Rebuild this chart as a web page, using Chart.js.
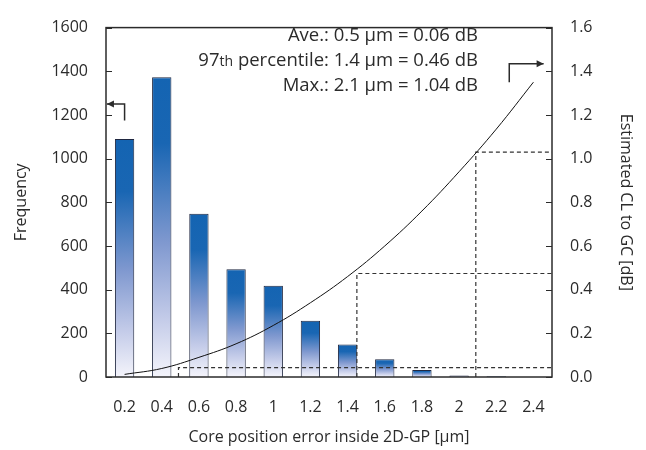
<!DOCTYPE html>
<html>
<head>
<meta charset="utf-8">
<script src="https://cdn.jsdelivr.net/npm/chart.js@4.4.0/dist/chart.umd.min.js"></script>
<style>
  html, body { margin: 0; padding: 0; background: #fff; }
  #wrap { width: 646px; height: 450px; }
</style>
</head>
<body>
<div id="wrap"><canvas id="c"></canvas></div>
<script>
// --- data ---
const categories = ["0.2", "0.4", "0.6", "0.8", "1", "1.2", "1.4", "1.6", "1.8", "2", "2.2", "2.4"];
const frequency = [1090, 1373, 748, 493, 418, 258, 149, 81, 32, 7, 3, 0];
const lossX = [0.2, 0.4, 0.6, 0.8, 1.0, 1.2, 1.4, 1.6, 1.8, 2.0, 2.2, 2.4];
const lossDb = [0.012, 0.039, 0.09, 0.152, 0.236, 0.34, 0.46, 0.6, 0.76, 0.94, 1.135, 1.35];
// markers as drawn: [error position, loss]
const aveMark = [0.49, 0.043];
const p97Mark = [1.45, 0.474];
const maxMark = [2.09, 1.03];
const notes = [
  ["", "Ave.: 0.5 \u00b5m = 0.06 dB"],
  ["97", "th", " percentile: 1.4 \u00b5m = 0.46 dB"],
  ["", "Max.: 2.1 \u00b5m = 1.04 dB"]
];

const FONT = "'Open Sans', 'Noto Sans', sans-serif";
const INK = "#2b2b2b";

function markLine(m) {
  return [{x: m[0], y: 0}, {x: m[0], y: m[1]}, {x: 2.5, y: m[1]}];
}

function barFill(ctx) {
  const chart = ctx.chart;
  if (!chart.chartArea) return "#1a64b0";
  const y = chart.scales.y;
  const v = ctx.raw || 0;
  const top = y.getPixelForValue(v);
  const bot = y.getPixelForValue(0);
  const g = chart.ctx.createLinearGradient(0, top, 0, Math.max(bot, top + 1));
  g.addColorStop(0, "#1464b2");
  g.addColorStop(0.22, "#1966b3");
  g.addColorStop(0.55, "#7f98cf");
  g.addColorStop(0.8, "#c2cae8");
  g.addColorStop(1, "#f4f4fb");
  return g;
}

const lineStyle = {
  type: "line", xAxisID: "xl", yAxisID: "y2",
  pointRadius: 0, fill: false, tension: 0
};

const frame = {
  id: "frame",
  afterDatasetsDraw(chart) {
    const {ctx, chartArea: a, scales} = chart;
    ctx.save();
    // inward ticks
    ctx.strokeStyle = INK;
    ctx.lineWidth = 1;
    scales.y.ticks.forEach(t => {
      const py = Math.round(scales.y.getPixelForValue(t.value)) + 0.5;
      ctx.beginPath(); ctx.moveTo(a.left, py); ctx.lineTo(a.left + 6, py); ctx.stroke();
    });
    scales.y2.ticks.forEach(t => {
      const py = Math.round(scales.y2.getPixelForValue(t.value)) + 0.5;
      ctx.beginPath(); ctx.moveTo(a.right, py); ctx.lineTo(a.right - 6, py); ctx.stroke();
    });
    // frame
    ctx.lineWidth = 1.5;
    ctx.strokeRect(a.left, a.top, a.right - a.left, a.bottom - a.top);

    // axis pointers
    const xl = scales.xl, y = scales.y, y2 = scales.y2;
    ctx.lineWidth = 1.5;
    const drawArrow = (pts, dir) => {
      ctx.beginPath();
      ctx.moveTo(pts[0][0], pts[0][1]);
      for (let i = 1; i < pts.length; i++) ctx.lineTo(pts[i][0], pts[i][1]);
      ctx.stroke();
      const [hx, hy] = pts[pts.length - 1];
      ctx.beginPath();
      ctx.moveTo(hx, hy);
      ctx.lineTo(hx - dir * 7, hy - 3.5);
      ctx.lineTo(hx - dir * 7, hy + 3.5);
      ctx.closePath();
      ctx.fillStyle = INK;
      ctx.fill();
    };
    drawArrow([
      [xl.getPixelForValue(0.2), y.getPixelForValue(1175)],
      [xl.getPixelForValue(0.2), y.getPixelForValue(1250)],
      [xl.getPixelForValue(0.105), y.getPixelForValue(1250)]
    ], -1);
    drawArrow([
      [xl.getPixelForValue(2.27), y2.getPixelForValue(1.35)],
      [xl.getPixelForValue(2.27), y2.getPixelForValue(1.435)],
      [xl.getPixelForValue(2.455), y2.getPixelForValue(1.435)]
    ], 1);

    // notes
    ctx.fillStyle = INK;
    ctx.textBaseline = "middle";
    const big = "18.5px " + FONT, small = "14px " + FONT;
    const rightX = 478;
    const ys = [36, 61, 86];
    notes.forEach((n, i) => {
      const parts = n.length === 2 ? [[n[1], big]] : [[n[0], big], [n[1], small], [n[2], big]];
      let w = 0;
      parts.forEach(p => { ctx.font = p[1]; w += ctx.measureText(p[0]).width; });
      let x = rightX - w;
      ctx.textAlign = "left";
      parts.forEach(p => {
        ctx.font = p[1];
        ctx.fillText(p[0], x, ys[i] + (p[1] === small ? 1 : 0));
        x += ctx.measureText(p[0]).width;
      });
    });
    ctx.restore();
  }
};

new Chart(document.getElementById("c"), {
  type: "bar",
  data: {
    labels: categories,
    datasets: [
      {
        type: "bar", data: frequency, xAxisID: "x", yAxisID: "y",
        backgroundColor: barFill, borderColor: "#1f2740", borderWidth: 1,
        categoryPercentage: 1, barPercentage: 0.52, grouped: false, order: 2
      },
      Object.assign({}, lineStyle, {
        data: lossX.map((x, i) => ({x, y: lossDb[i]})),
        borderColor: "#111", borderWidth: 1, tension: 0.4, order: 1
      }),
      Object.assign({}, lineStyle, {
        data: markLine(aveMark), borderColor: "#333", borderWidth: 1.2, borderDash: [4, 3], order: 1
      }),
      Object.assign({}, lineStyle, {
        data: markLine(p97Mark), borderColor: "#333", borderWidth: 1.2, borderDash: [4, 3], order: 1
      }),
      Object.assign({}, lineStyle, {
        data: markLine(maxMark), borderColor: "#333", borderWidth: 1.2, borderDash: [4, 3], order: 1
      })
    ]
  },
  options: {
    responsive: true,
    maintainAspectRatio: false,
    animation: false,
    layout: {padding: {top: 16, left: 0, right: 0, bottom: 0}},
    plugins: {legend: {display: false}, tooltip: {enabled: false}},
    scales: {
      x: {
        type: "category", position: "bottom", offset: true,
        grid: {display: false, drawTicks: false},
        border: {display: false},
        ticks: {color: INK, font: {family: FONT, size: 16}, padding: 21, maxRotation: 0, autoSkip: false},
        title: {display: true, text: "Core position error inside 2D-GP [\u00b5m]", color: INK,
                font: {family: FONT, size: 16}, padding: {top: 0, bottom: 3}},
        afterFit(s) { s.height = 73; }
      },
      xl: {
        type: "linear", position: "bottom", display: false, offset: false, min: 0.1, max: 2.5,
        grid: {offset: false}
      },
      y: {
        position: "left", min: 0, max: 1600,
        grid: {display: false, drawTicks: false},
        border: {display: false},
        ticks: {stepSize: 200, color: INK, font: {family: FONT, size: 16}, padding: 18,
                callback: v => String(v)},
        title: {display: true, text: "Frequency", color: INK,
                font: {family: FONT, size: 16}, padding: {top: 12, bottom: 0}},
        afterFit(s) { s.width = 106; }
      },
      y2: {
        position: "right", min: 0, max: 1.6,
        grid: {display: false, drawTicks: false},
        border: {display: false},
        ticks: {stepSize: 0.2, color: INK, font: {family: FONT, size: 16}, padding: 18,
                callback: v => v.toFixed(1)},
        title: {display: true, text: "Estimated CL to GC [dB]", color: INK,
                font: {family: FONT, size: 16}, padding: {top: 11, bottom: 0}},
        afterFit(s) { s.width = 94; }
      }
    }
  },
  plugins: [frame]
});
</script>
</body>
</html>
